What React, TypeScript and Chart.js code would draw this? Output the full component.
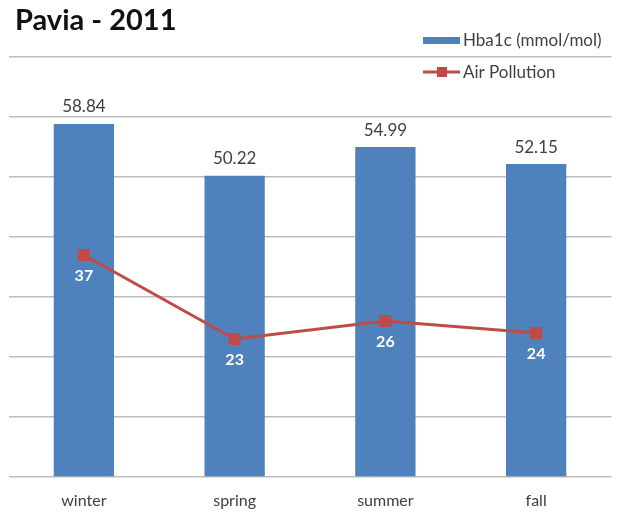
import React, { useEffect, useRef } from "react";
import { Chart, registerables } from "chart.js";

Chart.register(...registerables);

const categories = ["winter", "spring", "summer", "fall"];
const hba1cValues = [58.84, 50.22, 54.99, 52.15];
const pollutionValues = [37, 23, 26, 24];
const titleText = "Pavia - 2011";
const seriesNames = ["Hba1c (mmol/mol)", "Air Pollution"];

const FONT = "Lato, 'Open Sans', sans-serif";
const BAR_COLOR = "#4F81BD";
const LINE_COLOR = "#BE4B48";
const TEXT_COLOR = "#404040";

const labelsPlugin = {
  id: "customLabels",
  afterDatasetsDraw(chart: any) {
    const ctx = chart.ctx;
    ctx.save();
    const barMeta = chart.getDatasetMeta(0);
    ctx.font = `17px ${FONT}`;
    ctx.fillStyle = TEXT_COLOR;
    ctx.textAlign = "center";
    ctx.textBaseline = "middle";
    barMeta.data.forEach((el: any, i: number) => {
      ctx.fillText(hba1cValues[i].toFixed(2), el.x, el.y - 17);
    });
    const lineMeta = chart.getDatasetMeta(1);
    ctx.font = `bold 16px ${FONT}`;
    ctx.fillStyle = "#FFFFFF";
    lineMeta.data.forEach((el: any, i: number) => {
      ctx.fillText(String(pollutionValues[i]), el.x, el.y + 21);
    });
    ctx.restore();
  },
  afterDraw(chart: any) {
    const ctx = chart.ctx;
    ctx.save();
    // title
    ctx.font = `bold 29px ${FONT}`;
    ctx.fillStyle = "#111111";
    ctx.textAlign = "left";
    ctx.textBaseline = "middle";
    ctx.fillText(titleText, 15, 21);
    // legend
    ctx.font = `17px ${FONT}`;
    ctx.fillStyle = BAR_COLOR;
    ctx.fillRect(423, 37, 37, 7);
    ctx.fillStyle = TEXT_COLOR;
    ctx.fillText(seriesNames[0], 463, 41);
    ctx.strokeStyle = LINE_COLOR;
    ctx.lineWidth = 3;
    ctx.beginPath();
    ctx.moveTo(423, 72);
    ctx.lineTo(460, 72);
    ctx.stroke();
    ctx.fillStyle = LINE_COLOR;
    ctx.fillRect(437, 67, 10, 10);
    ctx.fillStyle = TEXT_COLOR;
    ctx.fillText(seriesNames[1], 463, 73);
    ctx.restore();
  },
};

export default function App() {
  const ref = useRef<HTMLCanvasElement>(null);
  useEffect(() => {
    document.body.style.margin = "0";
    const chart = new Chart(ref.current as HTMLCanvasElement, {
      type: "bar",
      data: {
        labels: categories,
        datasets: [
          {
            type: "bar",
            label: seriesNames[0],
            data: hba1cValues,
            backgroundColor: BAR_COLOR,
            categoryPercentage: 1,
            barPercentage: 0.4,
            order: 1,
          },
          {
            type: "line",
            label: seriesNames[1],
            data: pollutionValues,
            borderColor: LINE_COLOR,
            backgroundColor: LINE_COLOR,
            borderWidth: 3,
            pointStyle: "rect",
            pointRadius: 8.5,
            pointBorderWidth: 0,
            pointBackgroundColor: LINE_COLOR,
            order: 0,
          } as any,
        ],
      },
      options: {
        responsive: false,
        animation: false,
        layout: { padding: { left: 8, right: 6, top: 57, bottom: 8 } },
        plugins: {
          legend: { display: false },
          title: { display: false },
          tooltip: { enabled: false },
        },
        scales: {
          x: {
            grid: { display: false, drawTicks: false },
            border: { display: false },
            afterFit: (scale: any) => {
              scale.height = 32;
            },
            ticks: {
              padding: 14,
              color: TEXT_COLOR,
              font: { family: FONT, size: 16 },
            },
          },
          y: {
            min: 0,
            max: 70,
            ticks: { display: false, stepSize: 10 },
            grid: { color: "#BDBDBD", lineWidth: 1.5, drawTicks: false },
            border: { display: false },
          },
        },
      },
      plugins: [labelsPlugin],
    });
    return () => chart.destroy();
  }, []);
  return (
    <canvas
      ref={ref}
      width={620}
      height={517}
      style={{ display: "block", width: 620, height: 517 }}
    />
  );
}
